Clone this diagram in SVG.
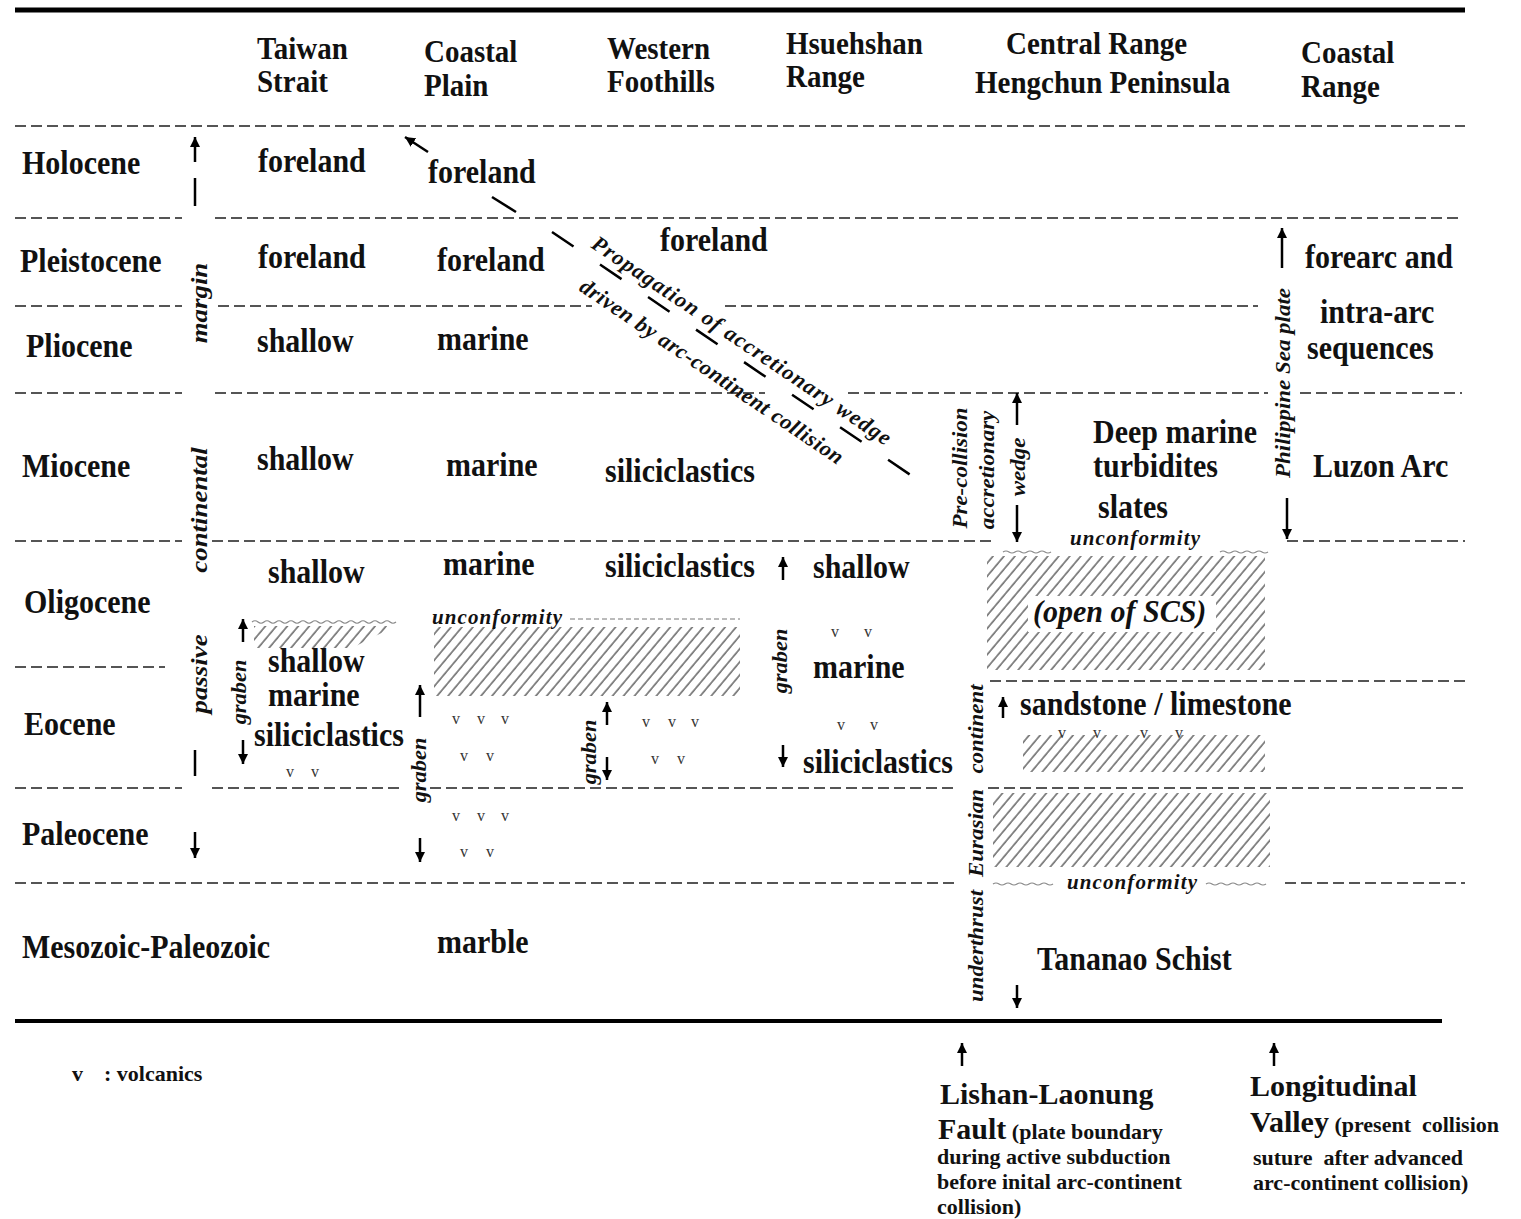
<svg xmlns="http://www.w3.org/2000/svg" width="1521" height="1219" viewBox="0 0 1521 1219">
<style>
.b{font-family:"Liberation Serif","Times New Roman",serif;font-weight:700;font-size:30px;fill:#111}
.h{font-family:"Liberation Serif","Times New Roman",serif;font-weight:700;font-size:29px;fill:#111}
.sm{font-family:"Liberation Serif","Times New Roman",serif;font-weight:700;font-size:22px;fill:#111;white-space:pre}
.it{font-family:"Liberation Serif","Times New Roman",serif;font-weight:700;font-style:italic;fill:#111}
.v{font-family:"Liberation Serif","Times New Roman",serif;font-size:16px;fill:#333}
.dl{stroke:#555;stroke-width:2;stroke-dasharray:11 5;fill:none}
.ar{stroke:#000;stroke-width:2.5;fill:none}
.sg{stroke:#000;stroke-width:2.5;fill:none}
.wv{stroke:#888;stroke-width:1.2;fill:none}
.ht{fill:url(#hatch);stroke:none}
</style>
<defs>
<marker id="ah" viewBox="0 0 10 10" refX="10" refY="5" markerWidth="4" markerHeight="4" orient="auto"><path d="M0,0 L10,5 L0,10 z" fill="#000"/></marker>
<pattern id="hatch" width="8.4" height="10" patternUnits="userSpaceOnUse" patternTransform="rotate(40)"><line x1="1" y1="-1" x2="1" y2="11" stroke="#4d4d4d" stroke-width="1.3"/></pattern>
</defs>
<rect width="1521" height="1219" fill="#fff"/>

<g id="frame">
<line x1="15" y1="10" x2="1465" y2="10" stroke="#000" stroke-width="5"/>
<line x1="15" y1="1021" x2="1442" y2="1021" stroke="#000" stroke-width="4"/>
</g>

<g id="grid">
<line class="dl" x1="15" y1="126" x2="1465" y2="126"/>
<line class="dl" x1="15" y1="218" x2="182" y2="218"/><line class="dl" x1="215" y1="218" x2="1460" y2="218"/>
<line class="dl" x1="15" y1="306" x2="182" y2="306"/><line class="dl" x1="218" y1="306" x2="592" y2="306"/><line class="dl" x1="725" y1="306" x2="1258" y2="306"/>
<line class="dl" x1="15" y1="393" x2="182" y2="393"/><line class="dl" x1="215" y1="393" x2="765" y2="393"/><line class="dl" x1="848" y1="393" x2="1268" y2="393"/><line class="dl" x1="1300" y1="393" x2="1462" y2="393"/>
<line class="dl" x1="15" y1="541" x2="182" y2="541"/><line class="dl" x1="212" y1="541" x2="993" y2="541"/><line class="dl" x1="1287" y1="541" x2="1465" y2="541"/>
<line class="dl" x1="15" y1="667" x2="165" y2="667"/>
<line class="dl" x1="990" y1="681" x2="1465" y2="681"/>
<line class="dl" x1="15" y1="788" x2="182" y2="788"/><line class="dl" x1="212" y1="788" x2="400" y2="788"/><line class="dl" x1="430" y1="788" x2="958" y2="788"/><line class="dl" x1="988" y1="788" x2="1465" y2="788"/>
<line class="dl" x1="15" y1="883" x2="958" y2="883"/><line class="dl" x1="1285" y1="883" x2="1465" y2="883"/>
</g>

<g id="hatches">
<polygon class="ht" points="254,626 395,626 352,648 254,648"/>
<rect class="ht" x="434" y="627" width="306" height="69"/>
<rect class="ht" x="987" y="556" width="278" height="114"/>
<rect class="ht" x="1023" y="735" width="242" height="37"/>
<rect class="ht" x="993" y="793" width="277" height="74"/>
<rect x="1028" y="596" width="188" height="36" fill="#fff"/>
<path class="wv" d="M252,622 q3,-2.5 6,0 t6,0 t6,0 t6,0 t6,0 t6,0 t6,0 t6,0 t6,0 t6,0 t6,0 t6,0 t6,0 t6,0 t6,0 t6,0 t6,0 t6,0 t6,0 t6,0 t6,0 t6,0 t6,0 t6,0"/>
<line x1="570" y1="619" x2="740" y2="619" stroke="#777" stroke-width="1" stroke-dasharray="5 3"/>
<path class="wv" d="M1003,552 q3,-2 6,0 t6,0 t6,0 t6,0 t6,0 t6,0 t6,0 t6,0"/>
<path class="wv" d="M1220,552 q3,-2 6,0 t6,0 t6,0 t6,0 t6,0 t6,0 t6,0 t6,0"/>
<path class="wv" d="M993,884 q3,-2 6,0 t6,0 t6,0 t6,0 t6,0 t6,0 t6,0 t6,0 t6,0 t6,0"/>
<path class="wv" d="M1206,884 q3,-2 6,0 t6,0 t6,0 t6,0 t6,0 t6,0 t6,0 t6,0 t6,0 t6,0"/>
</g>

<g id="connectors">
<line class="ar" x1="195" y1="162" x2="195" y2="137" marker-end="url(#ah)"/>
<line class="sg" x1="195" y1="178" x2="195" y2="206"/>
<line class="sg" x1="195" y1="750" x2="195" y2="776"/>
<line class="ar" x1="195" y1="832" x2="195" y2="858" marker-end="url(#ah)"/>
<line class="ar" x1="243" y1="642" x2="243" y2="619" marker-end="url(#ah)"/>
<line class="ar" x1="243" y1="740" x2="243" y2="764" marker-end="url(#ah)"/>
<line class="ar" x1="420" y1="717" x2="420" y2="685" marker-end="url(#ah)"/>
<line class="ar" x1="420" y1="838" x2="420" y2="862" marker-end="url(#ah)"/>
<line class="ar" x1="607" y1="725" x2="607" y2="702" marker-end="url(#ah)"/>
<line class="ar" x1="607" y1="757" x2="607" y2="780" marker-end="url(#ah)"/>
<line class="ar" x1="783" y1="580" x2="783" y2="557" marker-end="url(#ah)"/>
<line class="ar" x1="783" y1="745" x2="783" y2="767" marker-end="url(#ah)"/>
<line class="ar" x1="1017" y1="425" x2="1017" y2="393" marker-end="url(#ah)"/>
<line class="ar" x1="1017" y1="505" x2="1017" y2="542" marker-end="url(#ah)"/>
<line class="ar" x1="1003" y1="718" x2="1003" y2="697" marker-end="url(#ah)"/>
<line class="ar" x1="1017" y1="985" x2="1017" y2="1008" marker-end="url(#ah)"/>
<line class="ar" x1="1282" y1="268" x2="1282" y2="228" marker-end="url(#ah)"/>
<line class="ar" x1="1287" y1="498" x2="1287" y2="539" marker-end="url(#ah)"/>
<line class="ar" x1="962" y1="1066" x2="962" y2="1043" marker-end="url(#ah)"/>
<line class="ar" x1="1274" y1="1066" x2="1274" y2="1043" marker-end="url(#ah)"/>
<line class="ar" x1="428" y1="152" x2="405" y2="137" marker-end="url(#ah)"/>
<line class="sg" x1="492" y1="197" x2="516" y2="212"/>
<line class="sg" x1="552" y1="232" x2="915" y2="478" stroke-dasharray="26 32"/>
</g>

<g id="headers">
<text class="h" transform="translate(257 59) scale(1 1.1)">Taiwan</text>
<text class="h" transform="translate(257 92) scale(1 1.1)">Strait</text>
<text class="h" transform="translate(424 62) scale(1 1.1)">Coastal</text>
<text class="h" transform="translate(424 96) scale(1 1.1)">Plain</text>
<text class="h" transform="translate(607 59) scale(1 1.1)">Western</text>
<text class="h" transform="translate(607 92) scale(1 1.1)">Foothills</text>
<text class="h" transform="translate(786 54) scale(1 1.1)">Hsuehshan</text>
<text class="h" transform="translate(786 87) scale(1 1.1)">Range</text>
<text class="h" transform="translate(1006 54) scale(1 1.1)">Central Range</text>
<text class="h" transform="translate(975 93) scale(1 1.1)">Hengchun Peninsula</text>
<text class="h" transform="translate(1301 63) scale(1 1.1)">Coastal</text>
<text class="h" transform="translate(1301 97) scale(1 1.1)">Range</text>
</g>

<g id="epochs">
<text class="b" transform="translate(22 174) scale(1 1.12)">Holocene</text>
<text class="b" transform="translate(20 272) scale(1 1.12)">Pleistocene</text>
<text class="b" transform="translate(26 357) scale(1 1.12)">Pliocene</text>
<text class="b" transform="translate(22 477) scale(1 1.12)">Miocene</text>
<text class="b" transform="translate(24 613) scale(1 1.12)">Oligocene</text>
<text class="b" transform="translate(24 735) scale(1 1.12)">Eocene</text>
<text class="b" transform="translate(22 845) scale(1 1.12)">Paleocene</text>
<text class="b" transform="translate(22 958) scale(1 1.12)">Mesozoic-Paleozoic</text>
</g>

<g id="cells">
<text class="b" transform="translate(258 172) scale(1 1.12)">foreland</text>
<text class="b" transform="translate(428 183) scale(1 1.12)">foreland</text>
<text class="b" transform="translate(258 268) scale(1 1.12)">foreland</text>
<text class="b" transform="translate(437 271) scale(1 1.12)">foreland</text>
<text class="b" transform="translate(660 251) scale(1 1.12)">foreland</text>
<text class="b" transform="translate(1305 268) scale(1 1.12)">forearc and</text>
<text class="b" transform="translate(257 352) scale(1 1.12)">shallow</text>
<text class="b" transform="translate(437 350) scale(1 1.12)">marine</text>
<text class="b" transform="translate(1320 323) scale(1 1.12)">intra-arc</text>
<text class="b" transform="translate(1307 359) scale(1 1.12)">sequences</text>
<text class="b" transform="translate(257 470) scale(1 1.12)">shallow</text>
<text class="b" transform="translate(446 476) scale(1 1.12)">marine</text>
<text class="b" transform="translate(605 482) scale(1 1.12)">siliciclastics</text>
<text class="b" transform="translate(1093 443) scale(1 1.12)">Deep marine</text>
<text class="b" transform="translate(1093 477) scale(1 1.12)">turbidites</text>
<text class="b" transform="translate(1098 518) scale(1 1.12)">slates</text>
<text class="b" transform="translate(1313 477) scale(1 1.12)">Luzon Arc</text>
<text class="b" transform="translate(268 583) scale(1 1.12)">shallow</text>
<text class="b" transform="translate(443 575) scale(1 1.12)">marine</text>
<text class="b" transform="translate(605 577) scale(1 1.12)">siliciclastics</text>
<text class="b" transform="translate(813 578) scale(1 1.12)">shallow</text>
<text class="b" transform="translate(268 672) scale(1 1.12)">shallow</text>
<text class="b" transform="translate(268 706) scale(1 1.12)">marine</text>
<text class="b" transform="translate(254 746) scale(1 1.12)">siliciclastics</text>
<text class="b" transform="translate(813 678) scale(1 1.12)">marine</text>
<text class="b" transform="translate(803 773) scale(1 1.12)">siliciclastics</text>
<text class="b" transform="translate(1020 715) scale(1 1.12)">sandstone / limestone</text>
<text class="b" transform="translate(437 953) scale(1 1.12)">marble</text>
<text class="b" transform="translate(1037 970) scale(1 1.12)">Tananao Schist</text>
<text class="it" font-size="30" transform="translate(1033 622) scale(1 1.05)">(open of SCS)</text>
<text class="it" font-size="21" x="1070" y="545" textLength="130">unconformity</text>
<text class="it" font-size="21" x="432" y="624" textLength="130">unconformity</text>
<text class="it" font-size="21" x="1067" y="889" textLength="130">unconformity</text>
</g>

<g id="vertical-labels">
<text class="it" font-size="24" text-anchor="middle" transform="translate(207 303) scale(1 1.12) rotate(-90)">margin</text>
<text class="it" font-size="24" text-anchor="middle" transform="translate(207 510) scale(1 1.12) rotate(-90)">continental</text>
<text class="it" font-size="24" text-anchor="middle" transform="translate(207 674) scale(1 1.12) rotate(-90)">passive</text>
<text class="it" font-size="20" text-anchor="middle" transform="translate(246 692) scale(1 1.12) rotate(-90)">graben</text>
<text class="it" font-size="20" text-anchor="middle" transform="translate(426 770) scale(1 1.12) rotate(-90)">graben</text>
<text class="it" font-size="20" text-anchor="middle" transform="translate(596 752) scale(1 1.12) rotate(-90)">graben</text>
<text class="it" font-size="20" text-anchor="middle" transform="translate(787 661) scale(1 1.12) rotate(-90)">graben</text>
<text class="it" font-size="20.5" text-anchor="middle" transform="translate(967 468) scale(1 1.12) rotate(-90)">Pre-collision</text>
<text class="it" font-size="20.5" text-anchor="middle" transform="translate(994 470) scale(1 1.12) rotate(-90)">accretionary</text>
<text class="it" font-size="20.5" text-anchor="middle" transform="translate(1025 467) scale(1 1.12) rotate(-90)">wedge</text>
<text class="it" font-size="20.5" text-anchor="middle" transform="translate(983 729) scale(1 1.12) rotate(-90)">continent</text>
<text class="it" font-size="20.5" text-anchor="middle" transform="translate(983 833) scale(1 1.12) rotate(-90)">Eurasian</text>
<text class="it" font-size="20.5" text-anchor="middle" transform="translate(983 946) scale(1 1.12) rotate(-90)">underthrust</text>
<text class="it" font-size="20.5" text-anchor="middle" transform="translate(1290 383) scale(1 1.12) rotate(-90)">Philippine Sea plate</text>
<text class="it" font-size="22" transform="translate(590 247) rotate(34)" textLength="356" lengthAdjust="spacing">Propagation of accretionary wedge</text>
<text class="it" font-size="22" transform="translate(578 290) rotate(34)" textLength="313" lengthAdjust="spacing">driven by arc-continent collision</text>
</g>

<g id="volcanics">
<text class="v" x="286" y="777">v</text><text class="v" x="311" y="777">v</text>
<text class="v" x="452" y="724">v</text><text class="v" x="477" y="724">v</text><text class="v" x="501" y="724">v</text>
<text class="v" x="460" y="761">v</text><text class="v" x="486" y="761">v</text>
<text class="v" x="452" y="821">v</text><text class="v" x="477" y="821">v</text><text class="v" x="501" y="821">v</text>
<text class="v" x="460" y="857">v</text><text class="v" x="486" y="857">v</text>
<text class="v" x="642" y="727">v</text><text class="v" x="668" y="727">v</text><text class="v" x="691" y="727">v</text>
<text class="v" x="651" y="764">v</text><text class="v" x="677" y="764">v</text>
<text class="v" x="831" y="637">v</text><text class="v" x="864" y="637">v</text>
<text class="v" x="837" y="730">v</text><text class="v" x="870" y="730">v</text>
<text class="v" x="1058" y="738">v</text><text class="v" x="1093" y="738">v</text><text class="v" x="1140" y="738">v</text><text class="v" x="1175" y="738">v</text>
</g>

<g id="legend">
<text class="sm" font-size="20" x="72" y="1081">v</text>
<text class="sm" font-size="20" x="104" y="1081">: volcanics</text>
</g>

<g id="faults">
<text class="b" x="940" y="1104">Lishan-Laonung</text>
<text class="b" x="938" y="1139">Fault<tspan class="sm"> (plate boundary</tspan></text>
<text class="sm" x="937" y="1164">during active subduction</text>
<text class="sm" x="937" y="1189">before inital arc-continent</text>
<text class="sm" x="937" y="1214">collision)</text>
<text class="b" x="1250" y="1096">Longitudinal</text>
<text class="b" x="1250" y="1132">Valley<tspan class="sm"> (present  collision</tspan></text>
<text class="sm" x="1253" y="1165">suture  after advanced</text>
<text class="sm" x="1253" y="1190">arc-continent collision)</text>
</g>
</svg>
